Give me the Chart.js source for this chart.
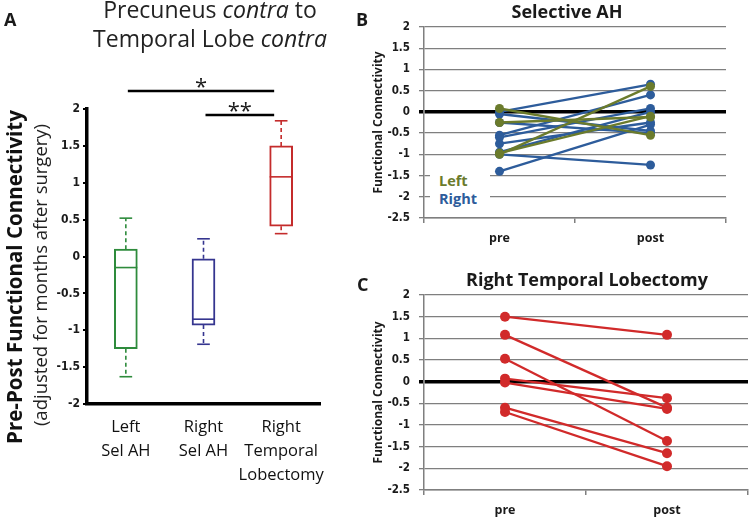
<!DOCTYPE html>
<html lang="en">
<head>
<meta charset="UTF-8" />
<script src="https://cdn.jsdelivr.net/npm/chart.js@4.4.0/dist/chart.umd.min.js"></script>
<style>
  body { margin: 0; width: 755px; height: 521px; overflow: hidden; position: relative; background: #fff;
         font-family: "Open Sans", sans-serif; color: #1a1a1a; }
  .abs { position: absolute; white-space: nowrap; }
  .letter { font-size: 18px; font-weight: bold; line-height: 1; }
  .ptitle { font-size: 18px; font-weight: bold; line-height: 1; text-align: center; width: 320px; }
  .rot { transform: rotate(-90deg); transform-origin: 50% 50%; text-align: center; width: 420px; }
</style>
</head>
<body>
  <div class="abs" style="left:0;top:0;width:360px;height:521px"><canvas id="chartA" width="360" height="521"></canvas></div>
  <div class="abs" style="left:360px;top:0;width:395px;height:250px"><canvas id="chartB" width="395" height="250"></canvas></div>
  <div class="abs" style="left:360px;top:262px;width:395px;height:259px"><canvas id="chartC" width="395" height="259"></canvas></div>

  <div class="abs letter" style="left:4px;top:10px">A</div>
  <div class="abs letter" style="left:356px;top:10px">B</div>
  <div class="abs letter" style="left:357px;top:275px">C</div>

  <div class="abs" style="left:60px;top:-5px;width:300px;text-align:center;font-size:23px;line-height:29px;color:#222">
    Precuneus <i>contra</i> to<br>Temporal Lobe <i>contra</i>
  </div>
  <div class="abs rot" style="left:-196px;top:266px;font-size:20.5px;font-weight:bold;line-height:22px;color:#111">Pre-Post Functional Connectivity</div>
  <div class="abs rot" style="left:-170px;top:264px;font-size:18.5px;line-height:22px;color:#222">(adjusted for months after surgery)</div>

  <div class="abs ptitle" style="left:407px;top:2px">Selective AH</div>
  <div class="abs ptitle" style="left:427px;top:270px">Right Temporal Lobectomy</div>

  <div class="abs" style="left:430px;top:171px;width:60px;height:39px;background:#fff"></div>
  <div class="abs" style="left:439px;top:174px;font-size:14.5px;font-weight:bold;line-height:1;color:#6b7b2c">Left</div>
  <div class="abs" style="left:439px;top:192px;font-size:14.5px;font-weight:bold;line-height:1;color:#2d5c9b">Right</div>

<script>
// panel A: box plot summary for each surgery group
var groups = [["Left", "Sel AH"], ["Right", "Sel AH"], ["Right", "Temporal", "Lobectomy"]];
var whiskerLow = [-1.63, -1.19, 0.31];
var q1 = [-1.25, -0.93, 0.41];
var median = [-0.15, -0.85, 1.08];
var q3 = [0.10, -0.03, 1.50];
var whiskerHigh = [0.52, 0.24, 1.84];
var comparisons = [[0, 2, "*"], [1, 2, "**"]];

// panel B: selective AH, pre vs post per patient
var timeLabels = ["pre", "post"];
var leftPre = [0.08, -0.25, -1.0, -0.97];
var leftPost = [-0.55, -0.12, 0.6, -0.1];
var rightPre = [0.0, -0.05, -0.25, -0.55, -0.6, -0.75, -0.95, -1.0, -1.4];
var rightPost = [0.65, -0.45, -0.5, 0.4, 0.08, -0.25, 0.0, -1.25, -0.3];

// panel C: right temporal lobectomy
var atlPre = [1.5, 1.08, 0.53, 0.07, -0.02, -0.6, -0.7];
var atlPost = [1.08, -0.6, -1.37, -0.38, -0.63, -1.65, -1.95];

var boxColors = ["#2e8b3c", "#35358f", "#c42b2b"];
var olive = "#6b7b2c", blue = "#2d5c9b", red = "#d12a2a";
var narrow = '"Liberation Sans Narrow", "DejaVu Sans Condensed", sans-serif';
var ink = "#1a1a1a";

function tickText(v) { return String(Number(v.toFixed(1))); }

var boxPlugin = {
  id: "boxWhiskers",
  afterDatasetsDraw: function (chart) {
    var ctx = chart.ctx, x = chart.scales.x, y = chart.scales.y;
    var bars = chart.getDatasetMeta(0).data;
    ctx.save();
    groups.forEach(function (g, i) {
      var cx = x.getPixelForValue(i), half = bars[i].width / 2, cap = half * 0.55;
      ctx.strokeStyle = boxColors[i];
      ctx.lineWidth = 1.6;
      ctx.setLineDash([]);
      [[half, median[i]], [cap, whiskerLow[i]], [cap, whiskerHigh[i]]].forEach(function (p) {
        var py = y.getPixelForValue(p[1]);
        ctx.beginPath(); ctx.moveTo(cx - p[0], py); ctx.lineTo(cx + p[0], py); ctx.stroke();
      });
      ctx.setLineDash([4, 3]);
      ctx.beginPath();
      ctx.moveTo(cx, y.getPixelForValue(q3[i])); ctx.lineTo(cx, y.getPixelForValue(whiskerHigh[i]));
      ctx.moveTo(cx, y.getPixelForValue(q1[i])); ctx.lineTo(cx, y.getPixelForValue(whiskerLow[i]));
      ctx.stroke();
    });
    ctx.restore();
  }
};

var sigPlugin = {
  id: "sigBars",
  afterDraw: function (chart) {
    var ctx = chart.ctx, x = chart.scales.x, top = chart.chartArea.top;
    ctx.save();
    comparisons.forEach(function (c, k) {
      var yy = top - 18 + k * 24;
      var x0 = x.getPixelForValue(c[0]) + 2, x1 = x.getPixelForValue(c[1]) - 7;
      ctx.strokeStyle = "#000"; ctx.lineWidth = 2.5;
      ctx.beginPath(); ctx.moveTo(x0, yy); ctx.lineTo(x1, yy); ctx.stroke();
      ctx.fillStyle = ink; ctx.font = '22px "Open Sans"';
      ctx.textAlign = "center"; ctx.textBaseline = "alphabetic";
      ctx.fillText(c[2], (x0 + x1) / 2, yy + 3);
    });
    ctx.restore();
  }
};

new Chart(document.getElementById("chartA"), {
  type: "bar",
  data: {
    labels: groups,
    datasets: [{
      data: q1.map(function (v, i) { return [v, q3[i]]; }),
      backgroundColor: "#fff",
      borderColor: boxColors,
      borderWidth: 2,
      borderSkipped: false,
      barThickness: 23
    }]
  },
  options: {
    responsive: false, animation: false, devicePixelRatio: 1,
    layout: { padding: { top: 109, right: 40 } },
    plugins: { legend: { display: false }, tooltip: { enabled: false } },
    scales: {
      x: {
        grid: { display: false },
        border: { display: true, color: "#000", width: 3.5 },
        ticks: { color: "#111", font: { family: "Open Sans", size: 16.5, weight: "500", lineHeight: 1.45 }, padding: 3, maxRotation: 0, autoSkip: false },
        afterFit: function (s) { s.height = 117; }
      },
      y: {
        min: -2, max: 2,
        ticks: { stepSize: 0.5, color: ink, font: { family: narrow, size: 12, weight: "bold" }, padding: 3, callback: tickText },
        grid: { drawOnChartArea: false, drawTicks: true, tickLength: 4, color: "#000", lineWidth: 2 },
        border: { color: "#000", width: 3.5 },
        afterFit: function (s) { s.width = 87; }
      }
    }
  },
  plugins: [boxPlugin, sigPlugin]
});

function pairSets(pre, post, color, radius) {
  return pre.map(function (v, i) {
    return { data: [v, post[i]], borderColor: color, backgroundColor: color, borderWidth: 2.3, pointRadius: radius, pointBorderWidth: 0 };
  });
}

function pairChart(id, datasets, top, right, xHeight) {
  return new Chart(document.getElementById(id), {
    type: "line",
    data: { labels: timeLabels, datasets: datasets },
    options: {
      responsive: false, animation: false, devicePixelRatio: 1,
      layout: { padding: { top: top, right: right } },
      plugins: { legend: { display: false }, tooltip: { enabled: false } },
      scales: {
        x: {
          offset: true,
          grid: { offset: true, drawOnChartArea: false, tickLength: 5, color: "#7f7f7f", lineWidth: 1.5 },
          border: { color: "#7f7f7f", width: 1.5 },
          ticks: { color: ink, font: { family: "Open Sans", size: 12.5, weight: "bold" }, padding: 8 },
          afterFit: function (s) { s.height = xHeight; }
        },
        y: {
          min: -2.5, max: 2,
          ticks: { stepSize: 0.5, color: ink, font: { family: narrow, size: 11.5, weight: "bold" }, padding: 9, callback: tickText },
          grid: {
            tickLength: 5,
            color: function (c) { return c.tick && c.tick.value === 0 ? "#000" : "#7f7f7f"; },
            lineWidth: function (c) { return c.tick && c.tick.value === 0 ? 3.5 : 1.3; }
          },
          border: { color: "#7f7f7f", width: 1.5 },
          title: { display: true, text: "Functional Connectivity", color: ink, font: { family: "Open Sans", size: 12, weight: "bold" }, padding: { top: 11 } },
          afterFit: function (s) { s.width = 64; }
        }
      }
    }
  });
}

pairChart("chartB", pairSets(leftPre, leftPost, olive, 4.5).concat(pairSets(rightPre, rightPost, blue, 4.5)), 27, 29, 32);
pairChart("chartC", pairSets(atlPre, atlPost, red, 5), 33, 7, 31);
</script>
</body>
</html>
